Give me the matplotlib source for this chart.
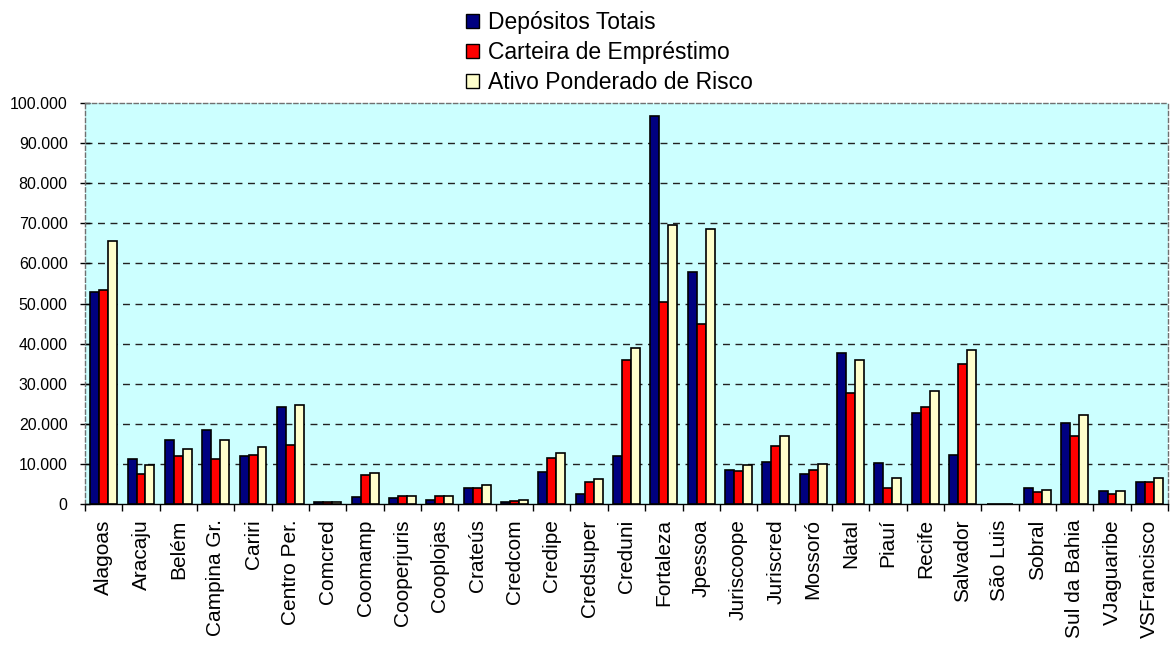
import matplotlib
matplotlib.use("Agg")
import matplotlib.pyplot as plt
import matplotlib.ticker as mticker
from matplotlib.patches import Patch
import numpy as np

plt.rcParams['font.family'] = ['Liberation Sans', 'DejaVu Sans']

categories = ["Alagoas", "Aracaju", "Belém", "Campina Gr.", "Cariri", "Centro Per.",
              "Comcred", "Coomamp", "Cooperjuris", "Cooplojas", "Crateús", "Credcom",
              "Credipe", "Credsuper", "Creduni", "Fortaleza", "Jpessoa", "Juriscoope",
              "Juriscred", "Mossoró", "Natal", "Piauí", "Recife", "Salvador",
              "São Luis", "Sobral", "Sul da Bahia", "VJaguaribe", "VSFrancisco"]

depositos = [52900, 11100, 15900, 18500, 11900, 24300,
             400, 1800, 1400, 1100, 4000, 400,
             8000, 2600, 11900, 96800, 57900, 8600,
             10400, 7600, 37600, 10100, 22800, 12200,
             0, 4000, 20200, 3300, 5500]

carteira = [53300, 7500, 11900, 11100, 12300, 14700,
            600, 7200, 2100, 2100, 4000, 700,
            11500, 5500, 35800, 50300, 44800, 8200,
            14400, 8600, 27800, 4000, 24200, 34800,
            0, 2900, 16900, 2500, 5500]

ativo = [65500, 9700, 13700, 15900, 14100, 24600,
         600, 7700, 2100, 2100, 4700, 1100,
         12700, 6200, 38800, 69500, 68500, 9700,
         16900, 10000, 35800, 6400, 28200, 38400,
         0, 3600, 22100, 3300, 6600]

series_names = ["Depósitos Totais", "Carteira de Empréstimo", "Ativo Ponderado de Risco"]
colors = ["#000080", "#FF0000", "#FFFFCC"]

W, H = 1172, 646
fig = plt.figure(figsize=(W / 100, H / 100), dpi=100)
ax = fig.add_axes([85 / W, 1 - 504 / H, (1168 - 85) / W, (504 - 103) / H])
ax.set_facecolor("#CCFFFF")

x = np.arange(len(categories))
bw = 0.24
for k, (vals, col) in enumerate(zip([depositos, carteira, ativo], colors)):
    ax.bar(x + (k - 1) * bw, vals, width=bw, color=col, edgecolor="black",
           linewidth=1.2, zorder=3)

ax.set_xlim(-0.5, len(categories) - 0.5)
ax.set_ylim(0, 100000)

ax.yaxis.set_major_locator(mticker.MultipleLocator(10000))
ax.yaxis.set_major_formatter(mticker.FuncFormatter(
    lambda v, p: "0" if v == 0 else f"{int(v):,}".replace(",", ".")))
ax.tick_params(axis="y", direction="inout", length=7, width=1, pad=9, labelsize=11.5)

ax.set_xticks(x)
ax.set_xticklabels(categories, rotation=90, fontsize=15)
ax.set_xticks(np.arange(len(categories) + 1) - 0.5, minor=True)
ax.tick_params(axis="x", which="major", length=0, pad=11)
ax.tick_params(axis="x", which="minor", direction="out", length=5, width=1)

for gv in range(10000, 100000, 10000):
    ax.axhline(gv, color="#222222", linestyle=(0, (5, 4)), linewidth=1.0, zorder=1)

for side in ["top", "right", "left"]:
    ax.spines[side].set_linestyle((0, (3, 2)))
    ax.spines[side].set_color("#707070")
    ax.spines[side].set_linewidth(1.0)
ax.spines["bottom"].set_color("black")
ax.spines["bottom"].set_linewidth(1.0)

handles = [Patch(facecolor=c, edgecolor="black", linewidth=1.0) for c in colors]
fig.legend(handles, series_names, loc="upper left",
           bbox_to_anchor=(450 / W, 1 + 5 / H), frameon=False, fontsize=16.5,
           handlelength=0.55, handleheight=0.55, handletextpad=0.4,
           labelspacing=0.3, borderpad=0.2)

fig.savefig("out.png", dpi=100)
